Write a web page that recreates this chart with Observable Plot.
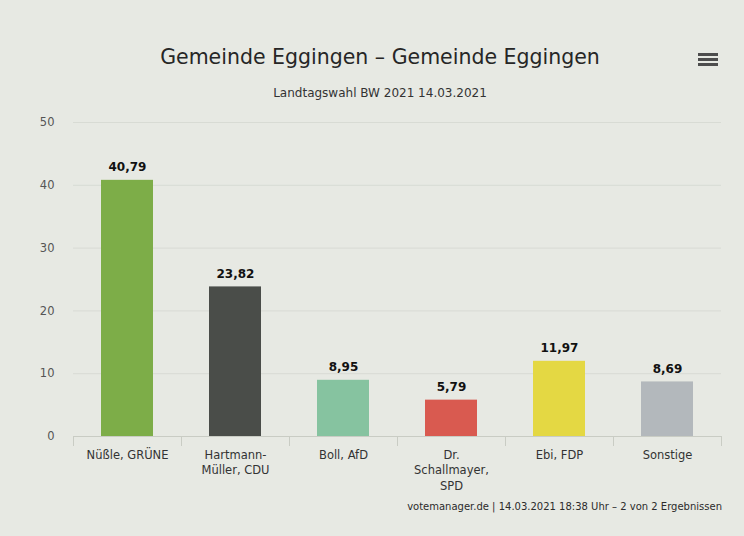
<!DOCTYPE html>
<html>
<head>
<meta charset="utf-8">
<script src="https://cdn.jsdelivr.net/npm/d3@7"></script>
<script src="https://cdn.jsdelivr.net/npm/@observablehq/plot@0.6"></script>
<style>
  html, body { margin: 0; padding: 0; }
  body { width: 744px; height: 536px; background: #e7e9e3; font-family: "DejaVu Sans", sans-serif; position: relative; overflow: hidden; }
  #title { position: absolute; top: 45px; left: 0; width: 760px; text-align: center; font-size: 20.5px; color: #262626; }
  #subtitle { position: absolute; top: 86px; left: 0; width: 760px; text-align: center; font-size: 12px; color: #333; }
  #menu { position: absolute; top: 53px; left: 698px; width: 20px; }
  #menu div { height: 3px; background: #4d4d4d; margin-bottom: 2px; }
  #chart { position: absolute; top: 100px; left: 0; }
  #footer { position: absolute; top: 501px; right: 22px; font-size: 10px; color: #2b2b2b; white-space: nowrap; }
</style>
</head>
<body>
<div id="title"></div>
<div id="subtitle"></div>
<div id="menu"><div></div><div></div><div></div></div>
<div id="chart"></div>
<div id="footer"></div>
<script>
const titleText = "Gemeinde Eggingen – Gemeinde Eggingen";
const subtitleText = "Landtagswahl BW 2021 14.03.2021";
const footerText = "votemanager.de | 14.03.2021 18:38 Uhr – 2 von 2 Ergebnissen";
const candidates = ["Nüßle, GRÜNE", "Hartmann-\nMüller, CDU", "Boll, AfD", "Dr.\nSchallmayer,\nSPD", "Ebi, FDP", "Sonstige"];
const shares = [40.79, 23.82, 8.95, 5.79, 11.97, 8.69];
const barColors = ["#7dad48", "#4a4d49", "#86c3a0", "#d95a50", "#e4d843", "#b3b8bc"];
const yTicks = [0, 10, 20, 30, 40, 50];

document.getElementById("title").textContent = titleText;
document.getElementById("subtitle").textContent = subtitleText;
document.getElementById("footer").textContent = footerText;

const data = candidates.map((c, i) => ({name: c, value: shares[i], color: barColors[i]}));
const fmt = v => v.toFixed(2).replace(".", ",");

const chart = Plot.plot({
  width: 744,
  height: 400,
  marginLeft: 73,
  marginRight: 23,
  marginTop: 22,
  marginBottom: 64,
  style: {background: "transparent", fontFamily: "DejaVu Sans, sans-serif"},
  x: {domain: candidates, paddingInner: 0.52, paddingOuter: 0.26, label: null},
  y: {domain: [0, 50], label: null},
  marks: [
    Plot.gridY(yTicks, {stroke: "#d8dbd4", strokeOpacity: 1}),
    Plot.axisY(yTicks, {tickSize: 0, tickPadding: 19, fontSize: 11.5, fill: "#555", label: null}),
    Plot.barY(data, {x: "name", y: "value", fill: "color"}),
    Plot.ruleY([0], {stroke: "#c9ccc4"}),
    Plot.axisX({tickSize: 10, dx: -54, text: null, stroke: "#c9ccc4"}),
    Plot.axisX([candidates[candidates.length - 1]], {tickSize: 10, dx: 54, text: null, stroke: "#c9ccc4"}),
    Plot.axisX({tickSize: 0, tickPadding: 11, fontSize: 11.5, fill: "#333", lineHeight: 1.35, label: null}),
    Plot.text(data, {x: "name", y: "value", text: d => fmt(d.value), lineAnchor: "bottom", dy: -9, fontWeight: "bold", fontSize: 12, fill: "#111"})
  ]
});
document.getElementById("chart").appendChild(chart);
</script>
</body>
</html>
